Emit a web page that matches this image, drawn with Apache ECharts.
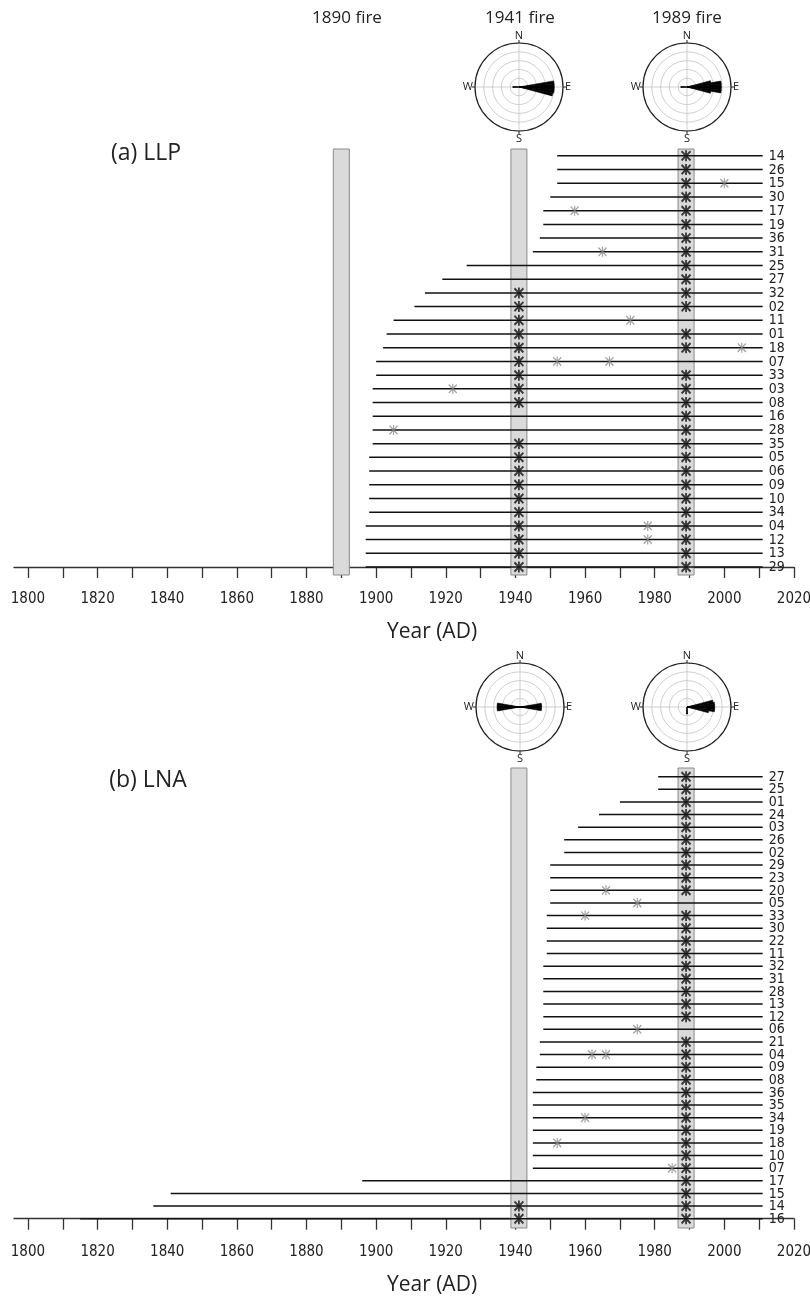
<!DOCTYPE html>
<html>
<head>
<meta charset="utf-8">
<script src="https://cdn.jsdelivr.net/npm/echarts@6/dist/echarts.min.js"></script>
<style>
html,body{margin:0;padding:0;background:#fff;}
#chart{width:810px;height:1299px;}
</style>
</head>
<body>
<div id="chart"></div>
<script>
// ---------------- DATA ----------------
const tickYears = [1800,1810,1820,1830,1840,1850,1860,1870,1880,1890,1900,1910,1920,1930,1940,1950,1960,1970,1980,1990,2000,2010,2020];
const labelYears = [1800,1820,1840,1860,1880,1900,1920,1940,1960,1980,2000,2020];
const sampleYear = 2011;

// (a) LLP
const aSites = ['14','26','15','30','17','19','36','31','25','27','32','02','11','01','18','07','33','03','08','16','28','35','05','06','09','10','34','04','12','13','29'];
const aStart = [1952,1952,1952,1950,1948,1948,1947,1945,1926,1919,1914,1911,1905,1903,1902,1900,1900,1899,1899,1899,1899,1899,1898,1898,1898,1898,1898,1897,1897,1897,1897];
const aFires = [1890, 1941, 1989];
const aScar1941 = ['32','02','11','01','18','07','33','03','08','35','05','06','09','10','34','04','12','13','29'];
const aScar1989 = ['14','26','15','30','17','19','36','31','25','27','32','02','01','18','33','03','08','16','28','35','05','06','09','10','34','04','12','13','29'];
const aOtherScars = [['15',2000],['17',1957],['31',1965],['11',1973],['18',2005],['07',1952],['07',1967],['03',1922],['28',1905],['04',1978],['12',1978]];

// (b) LNA
const bSites = ['27','25','01','24','03','26','02','29','23','20','05','33','30','22','11','32','31','28','13','12','06','21','04','09','08','36','35','34','19','18','10','07','17','15','14','16'];
const bStart = [1981,1981,1970,1964,1958,1954,1954,1950,1950,1950,1950,1949,1949,1949,1949,1948,1948,1948,1948,1948,1948,1947,1947,1946,1946,1945,1945,1945,1945,1945,1945,1945,1896,1841,1836,1815];
const bFires = [1941, 1989];
const bScar1941 = ['14','16'];
const bScar1989 = ['27','25','01','24','03','26','02','29','23','20','33','30','22','11','32','31','28','13','12','21','04','09','08','36','35','34','19','18','10','07','17','15','14','16'];
const bOtherScars = [['20',1966],['05',1975],['33',1960],['06',1975],['04',1962],['04',1966],['34',1960],['18',1952],['07',1985]];

// wind roses: [bin start (deg, 5-degree bins, clockwise from N), relative frequency]
const roseA1941 = [[80,0.8],[85,0.8],[90,0.8],[95,0.8],[100,0.78],[265,0.14],[270,0.14]];
const roseA1989 = [[75,0.55],[80,0.78],[85,0.78],[90,0.78],[95,0.78],[100,0.55],[265,0.14],[270,0.14]];
const roseB1941 = [[80,0.49],[85,0.49],[90,0.49],[95,0.49],[260,0.52],[265,0.52],[270,0.52],[275,0.52]];
const roseB1989 = [[75,0.6],[80,0.63],[85,0.63],[90,0.63],[95,0.63],[100,0.5],[175,0.16],[180,0.16]];
const compass = {0:'N', 90:'E', 180:'S', 270:'W'};

// ---------------- STYLE / LAYOUT ----------------
const FIRE_HALF = 2.3;
const narrow = "'Liberation Sans Narrow','DejaVu Sans Condensed','Liberation Sans',sans-serif";
const sans = "'Open Sans','Noto Sans',sans-serif";
const binCats = Array.from({length:72}, (_, i) => String(i*5));

function rowVal(sites, s) { return sites.length - 1 - sites.indexOf(s); }

function segData(sites, starts) {
  return sites.map((s, i) => ({name:s, value:[starts[i], sampleYear, rowVal(sites, s)]}));
}
function scarData(sites, list, year) {
  return list.map(s => [year, rowVal(sites, s)]);
}
function otherData(sites, list) {
  return list.map(p => [p[1], rowVal(sites, p[0])]);
}
function roseVals(rose) {
  const arr = new Array(72).fill(0);
  rose.forEach(p => { arr[p[0] / 5] = p[1]; });
  return arr;
}

function makeSeg(sites, fs) {
  return function (params, api) {
    const a = api.coord([api.value(0), api.value(2)]);
    const b = api.coord([api.value(1), api.value(2)]);
    return {type:'group', children:[
      {type:'line', shape:{x1:a[0], y1:a[1], x2:b[0], y2:b[1]},
       style:{stroke:'#111', lineWidth:1.5}},
      {type:'text', x:b[0] + 6, y:b[1] + 0.5,
       style:{text:sites[params.dataIndex], fontFamily:narrow, fontSize:fs, fill:'#222',
              align:'left', verticalAlign:'middle', textAlign:'left', textVerticalAlign:'middle'}}
    ]};
  };
}
function renderFire(params, api) {
  const cs = params.coordSys;
  const yr = api.value(0);
  const x0 = api.coord([yr - FIRE_HALF, 0])[0];
  const x1 = api.coord([yr + FIRE_HALF, 0])[0];
  return {type:'rect', shape:{x:x0, y:cs.y, width:x1 - x0, height:cs.height - 2},
          style:{fill:'#dadada', stroke:'#8a8a8a', lineWidth:1}};
}

const starPath = 'path://M0,1L10,11M10,1L0,11M5,0L5,12';

function xAx(gi) {
  return {
    type:'value', gridIndex:gi, min:1796, max:2020,
    axisLine:{lineStyle:{color:'#333', width:1.3}},
    axisTick:{customValues:tickYears, length:11, lineStyle:{color:'#333', width:1.3}},
    axisLabel:{customValues:labelYears, margin:15, fontFamily:narrow, fontSize:15, color:'#222',
      formatter: v => String(v)},
    splitLine:{show:false}
  };
}
function yAx(gi, min, max) {
  return {
    type:'value', gridIndex:gi, min:min, max:max, show:false
  };
}

const roseCenters = [[519,87],[687,87],[520,707],[687,707]];
const roses = [roseA1941, roseA1989, roseB1941, roseB1989];
const R = 44;

const polar = [], angleAxis = [], radiusAxis = [], roseSeries = [];
roseCenters.forEach((c, k) => {
  polar.push({center:c, radius:R});
  polar.push({center:c, radius:R});
  const gi = 2*k, bi = 2*k + 1;
  angleAxis.push({
    polarIndex:gi, type:'value', min:0, max:360, interval:30, startAngle:90, clockwise:true,
    axisLine:{lineStyle:{color:'#222', width:1.2}},
    axisTick:{customValues:[0,90,180,270], length:3, lineStyle:{color:'#222'}},
    axisLabel:{customValues:[0,90,180,270], margin:2, fontFamily:sans, fontSize:11, color:'#222',
      formatter: v => compass[v] || ''},
    splitLine:{lineStyle:{color:'#c4c4c4', width:0.8}}
  });
  radiusAxis.push({
    polarIndex:gi, type:'value', min:0, max:1, interval:0.2,
    axisLine:{show:false}, axisTick:{show:false}, axisLabel:{show:false},
    splitLine:{lineStyle:{color:'#c4c4c4', width:0.8}}
  });
  angleAxis.push({polarIndex:bi, type:'category', data:binCats, startAngle:90, clockwise:true, show:false});
  radiusAxis.push({polarIndex:bi, type:'value', min:0, max:1, show:false});
  roseSeries.push({
    type:'bar', coordinateSystem:'polar', polarIndex:bi, data:roseVals(roses[k]),
    barCategoryGap:'0%', itemStyle:{color:'#000', borderColor:'#000', borderWidth:0.6}, silent:true, z:5
  });
});

const series = [
  {type:'custom', xAxisIndex:0, yAxisIndex:0, data:aFires.map(y => [y, 0]), renderItem:renderFire, z:1, silent:true, encode:{x:0, y:1}},
  {type:'custom', xAxisIndex:1, yAxisIndex:1, data:bFires.map(y => [y, 0]), renderItem:renderFire, z:1, silent:true, encode:{x:0, y:1}},
  {type:'custom', xAxisIndex:0, yAxisIndex:0, data:segData(aSites, aStart), renderItem:makeSeg(aSites, 14), z:3, silent:true, encode:{x:[0,1], y:2}},
  {type:'custom', xAxisIndex:1, yAxisIndex:1, data:segData(bSites, bStart), renderItem:makeSeg(bSites, 14), z:3, silent:true, encode:{x:[0,1], y:2}},
];
const blackStyle = {symbol:starPath, symbolSize:[9,11], itemStyle:{color:'rgba(0,0,0,0)', borderColor:'#111', borderWidth:2}, z:5, silent:true};
const grayStyle = {symbol:starPath, symbolSize:[8,10], itemStyle:{color:'rgba(0,0,0,0)', borderColor:'#8a8a8a', borderWidth:1.3}, z:4, silent:true};
series.push(Object.assign({type:'scatter', xAxisIndex:0, yAxisIndex:0, data:scarData(aSites, aScar1941, 1941).concat(scarData(aSites, aScar1989, 1989))}, blackStyle));
series.push(Object.assign({type:'scatter', xAxisIndex:1, yAxisIndex:1, data:scarData(bSites, bScar1941, 1941).concat(scarData(bSites, bScar1989, 1989))}, blackStyle));
series.push(Object.assign({type:'scatter', xAxisIndex:0, yAxisIndex:0, data:otherData(aSites, aOtherScars)}, grayStyle));
series.push(Object.assign({type:'scatter', xAxisIndex:1, yAxisIndex:1, data:otherData(bSites, bOtherScars)}, grayStyle));
roseSeries.forEach(s => series.push(s));

function txt(t, x, y, size) {
  return {type:'text', x:x, y:y, style:{text:t, x:0, y:0, fontFamily:sans, fontSize:size, fill:'#222', textAlign:'center', textVerticalAlign:'middle'}};
}

const option = {
  animation:false,
  backgroundColor:'#fff',
  grid:[
    {left:14, width:780, top:149, height:428, outerBoundsMode:'none', containLabel:false},
    {left:14, width:780, top:768, height:462, outerBoundsMode:'none', containLabel:false}
  ],
  xAxis:[xAx(0), xAx(1)],
  yAxis:[yAx(0, -0.73, 30.5), yAx(1, -0.895, 35.69)],
  polar: polar,
  angleAxis: angleAxis,
  radiusAxis: radiusAxis,
  series: series,
  graphic:[
    txt('1890 fire', 347, 18, 17),
    txt('1941 fire', 520, 18, 17),
    txt('1989 fire', 687, 18, 17),
    txt('(a) LLP', 146, 153, 23),
    txt('(b) LNA', 148, 780, 23),
    txt('Year (AD)', 432, 632, 21),
    txt('Year (AD)', 432, 1285, 21)
  ]
};

const chart = echarts.init(document.getElementById('chart'), null, {renderer:'canvas'});
chart.setOption(option);
</script>
</body>
</html>
